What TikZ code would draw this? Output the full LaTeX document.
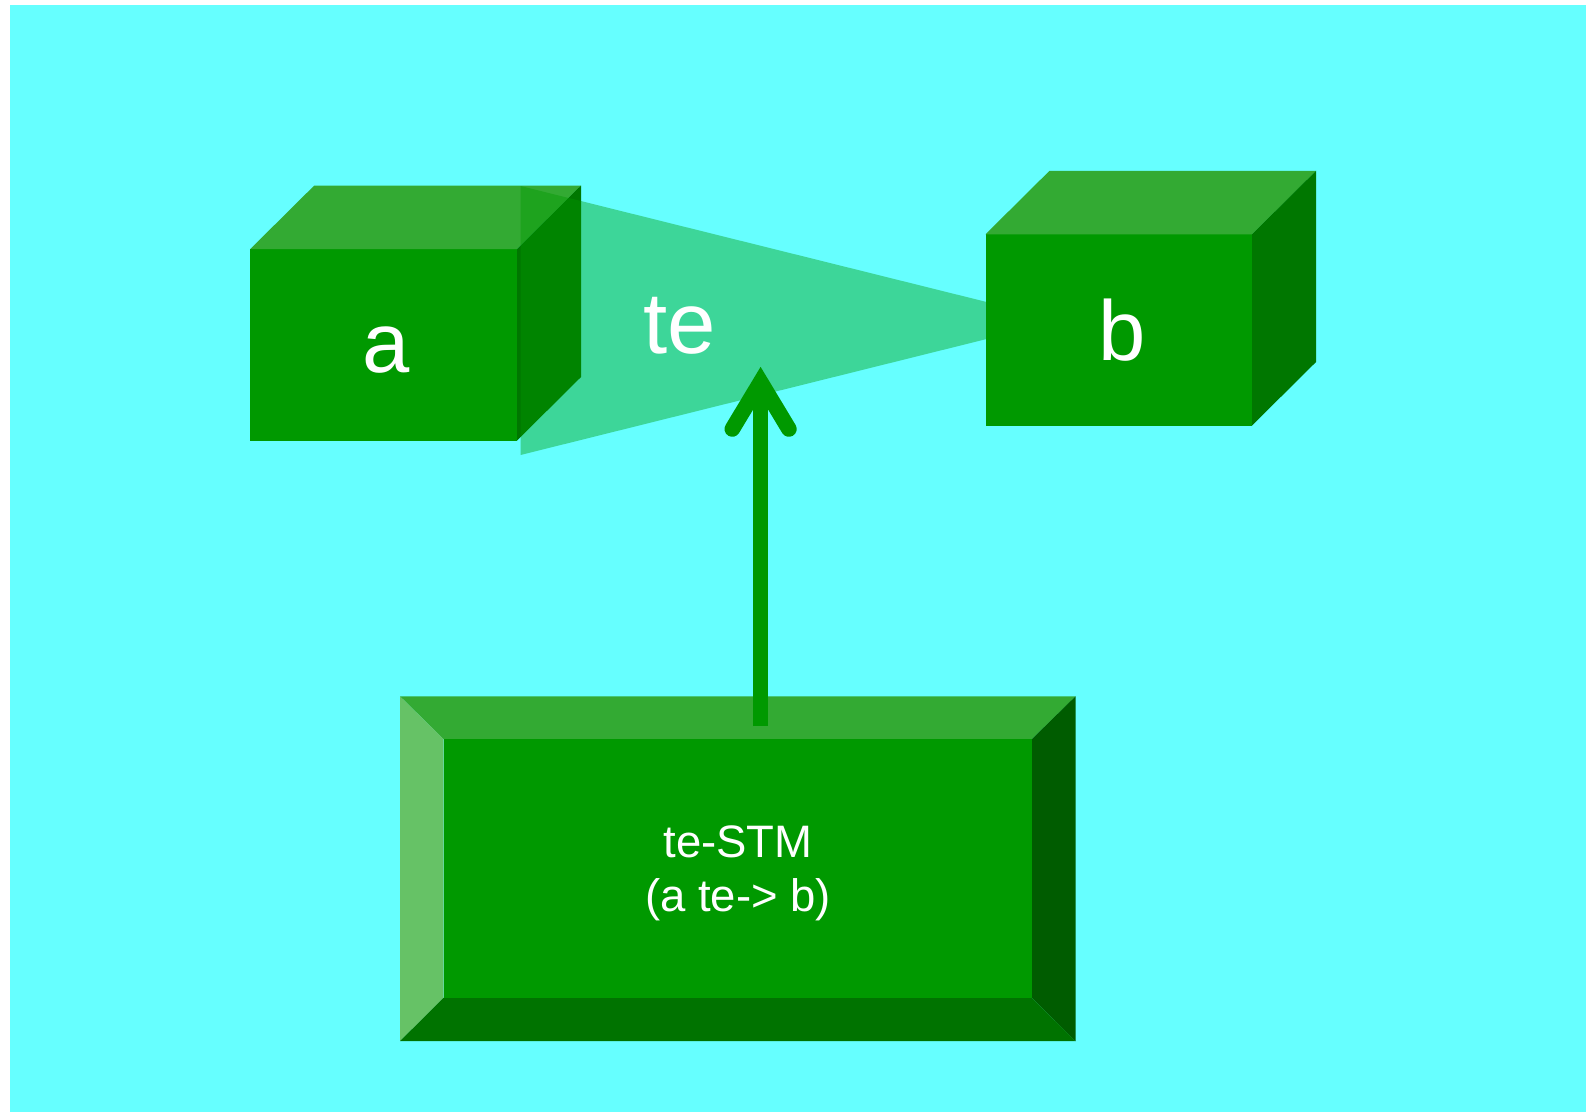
\documentclass[tikz,border=0pt]{standalone}
\usepackage{fontspec}
\setmainfont{Liberation Sans}
\usetikzlibrary{calc}
\definecolor{bgcyan}{HTML}{66FFFF}
\definecolor{frontgreen}{HTML}{009900}
\definecolor{topgreen}{HTML}{33AA33}
\definecolor{sidegreen}{HTML}{007700}
\definecolor{bevelleft}{HTML}{66C266}
\definecolor{bevelright}{HTML}{005C00}
\definecolor{bevelbottom}{HTML}{007300}
\tikzset{
  frontface/.style={fill=frontgreen},
  topface/.style={fill=topgreen},
  sideface/.style={fill=sidegreen},
  beam/.style={fill=frontgreen, fill opacity=0.4},
  biglabel/.style={text=white, inner sep=0pt, anchor=base, font=\fontsize{85}{100}\selectfont},
  stmlabel/.style={text=white, inner sep=0pt, anchor=base, font=\fontsize{45.5}{54}\selectfont},
  shaftline/.style={draw=frontgreen, line width=15.6pt, line cap=butt},
  headline/.style={draw=frontgreen, line width=15.6pt, line cap=round, line join=miter}
}
\begin{document}
\begin{tikzpicture}[x=1pt,y=-1pt]
\useasboundingbox (0,0) rectangle (1590,1112);
\fill[white] (0,0) rectangle (1590,1112);
\fill[bgcyan] (9.6,5) rectangle (1586,1112);

% box a
\fill[frontface] (250.3,249) rectangle (517,440.5);
\fill[topface] (250.3,249) -- (314.3,185.5) -- (581,185.5) -- (517,249) -- cycle;
\fill[sideface] (517,249) -- (581,185.5) -- (581,377) -- (517,440.5) -- cycle;

% relation beam
\fill[beam] (520.5,186) -- (1061,320.5) -- (520.5,455) -- cycle;

% box b
\fill[frontface] (985.5,234.3) rectangle (1252,425.5);
\fill[topface] (985.5,234.3) -- (1049.5,170.8) -- (1316,170.8) -- (1252,234.3) -- cycle;
\fill[sideface] (1252,234.3) -- (1316,170.8) -- (1316,362) -- (1252,425.5) -- cycle;

% labels
\node[biglabel] (la) at (386,372.5) {a};
\node[biglabel] (lb) at (1122.5,360.5) {b};
\node[biglabel, font=\fontsize{87}{100}\selectfont] (lte) at (679.4,353.3) {te};

% bottom bevel box
\fill[topgreen] (400,696.3) -- (1075.5,696.3) -- (1032,739) -- (443.5,739) -- cycle;
\fill[bevelleft] (400,696.3) -- (443.5,739) -- (443.5,997.8) -- (400,1041.2) -- cycle;
\fill[bevelright] (1075.5,696.3) -- (1075.5,1041.2) -- (1032,997.8) -- (1032,739) -- cycle;
\fill[bevelbottom] (400,1041.2) -- (443.5,997.8) -- (1032,997.8) -- (1075.5,1041.2) -- cycle;
\fill[frontgreen] (443.5,739) rectangle (1032,997.8);
\node[stmlabel] (stm) at (738,857.3) {\begin{tabular}[t]{@{}c@{}}te-STM\\(a te-> b)\end{tabular}};

% arrow
\coordinate (tail) at (760.6,726);
\coordinate (tip) at (760.6,382);
\draw[shaftline] (tail) -- ($(tip)+(0,12)$);
\draw[headline] ($(tip)+(-28.3,47)$) -- (tip) -- ($(tip)+(28.3,47)$);
\end{tikzpicture}
\end{document}
